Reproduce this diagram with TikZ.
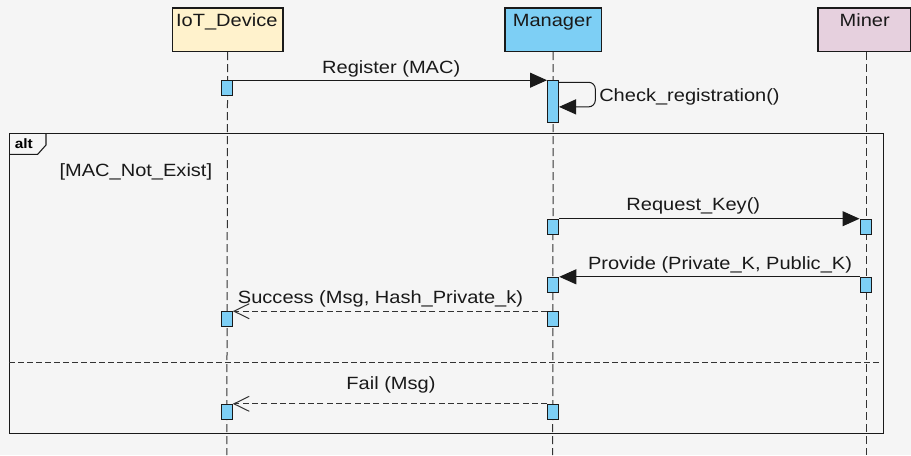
\documentclass[tikz,border=0pt]{standalone}
\usepackage{fontspec}
\setmainfont[FakeStretch=1.13]{Liberation Sans}
\usetikzlibrary{arrows.meta,calc}
\pgfdeclarelayer{bglayer}
\pgfdeclarelayer{lines}
\pgfsetlayers{bglayer,lines,main}
\definecolor{bg}{HTML}{F5F5F5}
\definecolor{iotc}{HTML}{FFF2CC}
\definecolor{mgrc}{HTML}{7DCFF5}
\definecolor{minc}{HTML}{E6D0DE}
\definecolor{linec}{HTML}{1A1A1A}
\definecolor{dashc}{HTML}{333333}
\tikzset{
  x=0.75pt, y=-0.75pt,
  part/.style={draw=linec, line width=0.9pt, inner sep=0, anchor=north west, minimum height=32.8pt},
  act/.style={draw=linec, line width=0.75pt, fill=mgrc, inner sep=0, minimum width=8.25pt, minimum height=11.25pt},
  lifeline/.style={draw=dashc, line width=0.75pt, dash pattern=on 6pt off 3pt},
  txt/.style={inner sep=0, font=\fontsize{13.3pt}{16pt}\selectfont, text=black!90},
  msg/.style={draw=linec, line width=0.75pt, -{Triangle[length=12.75pt,width=11.25pt]}},
  reply/.style={draw=dashc, line width=0.75pt, dash pattern=on 4.5pt off 2.5pt, -{Straight Barb[length=11.5pt,width=11.25pt,line width=0.75pt]}},
}
\begin{document}
\begin{tikzpicture}
\begin{pgfonlayer}{bglayer}
\fill[bg] (0,0) rectangle (911,455);
\end{pgfonlayer}
\useasboundingbox (0,0) rectangle (911,455);

% participants
\node[part, fill=iotc, minimum width=82.95pt] (iot) at (171.7,7.3) {};
\node[part, fill=mgrc, minimum width=72.5pt] (mgr) at (504.3,7.3) {};
\node[part, fill=minc, minimum width=69.5pt] (min) at (817.3,7.3) {};
\node[txt, anchor=base] (iott) at (226.8,26) {IoT\_Device};
\node[txt, anchor=base] (mgrt) at (552.4,26) {Manager};
\node[txt, anchor=base] (mint) at (864.7,26) {Miner};

% alt frame
\node[draw=linec, line width=0.8pt, inner sep=0, anchor=north west, minimum width=655.7pt, minimum height=225pt] (alt) at (9,133.3) {};
\draw[linec, line width=0.8pt] (9,154.3) -- (37.7,154.3) -- (46,145) -- (46,133.3);
\node[inner sep=0, anchor=base west, font=\bfseries\fontsize{10.2pt}{12pt}\selectfont] (altt) at (14.5,148.3) {alt};
\node[txt, anchor=base west] (cond) at (59.3,176.7) {[MAC\_Not\_Exist]};
\coordinate (sepl) at (9,362);
\coordinate (sepr) at (882,362);
\draw[draw=dashc, line width=0.75pt, dash pattern=on 4.5pt off 2.25pt] (sepl) -- (sepr);

% activations
\node[act] (a1) at (226.8,88.2) {};
\node[act, minimum height=31.7pt] (m1) at (553,101.2) {};
\node[act] (m2) at (553.3,226.7) {};
\node[act] (n1) at (865.5,226.7) {};
\node[act] (n2) at (865.5,284.8) {};
\node[act] (m3) at (553.3,284.8) {};
\node[act] (m4) at (553.3,319.2) {};
\node[act] (a2) at (226.8,319.2) {};
\node[act] (m5) at (553.3,411.8) {};
\node[act] (a3) at (226.8,411.8) {};

\begin{pgfonlayer}{lines}
% lifeline ends
\coordinate (iotend) at (226.8,455);
\coordinate (mgrend) at (552.7,455);
\coordinate (minend) at (866,455);
\draw[lifeline] (iot.south) -- (iotend);
\draw[lifeline] (mgr.south) -- (mgrend);
\draw[lifeline] (min.south -| minend) -- (minend);

% messages
\draw[msg] (a1.north east) -- (a1.north east -| m1.west);
\draw[msg, rounded corners=5pt] ($(m1.north east)+(0,2.7)$) -- ++(36.3,0) -- ++(0,24.6) -- ($(m1.north east)+(0,27.3)$);
\draw[msg] (m2.north east) -- (n1.north west);
\draw[msg] (n2.north west) -- (m3.north east);
\draw[reply] (m4.north west) -- (a2.north east);
\draw[reply] (m5.north west) -- (a3.north east);
\end{pgfonlayer}

\node[txt, anchor=base] (l1) at (391.2,73.3) {Register (MAC)};
\node[txt, anchor=base west] (l2) at (599,101.7) {Check\_registration()};
\node[txt, anchor=base] (l3) at (693.3,210) {Request\_Key()};
\node[txt, anchor=base] (l4) at (720,269) {Provide (Private\_K, Public\_K)};
\node[txt, anchor=base] (l5) at (380.5,303.3) {Success (Msg, Hash\_Private\_k)};
\node[txt, anchor=base] (l6) at (391,389) {Fail (Msg)};
\end{tikzpicture}
\end{document}
